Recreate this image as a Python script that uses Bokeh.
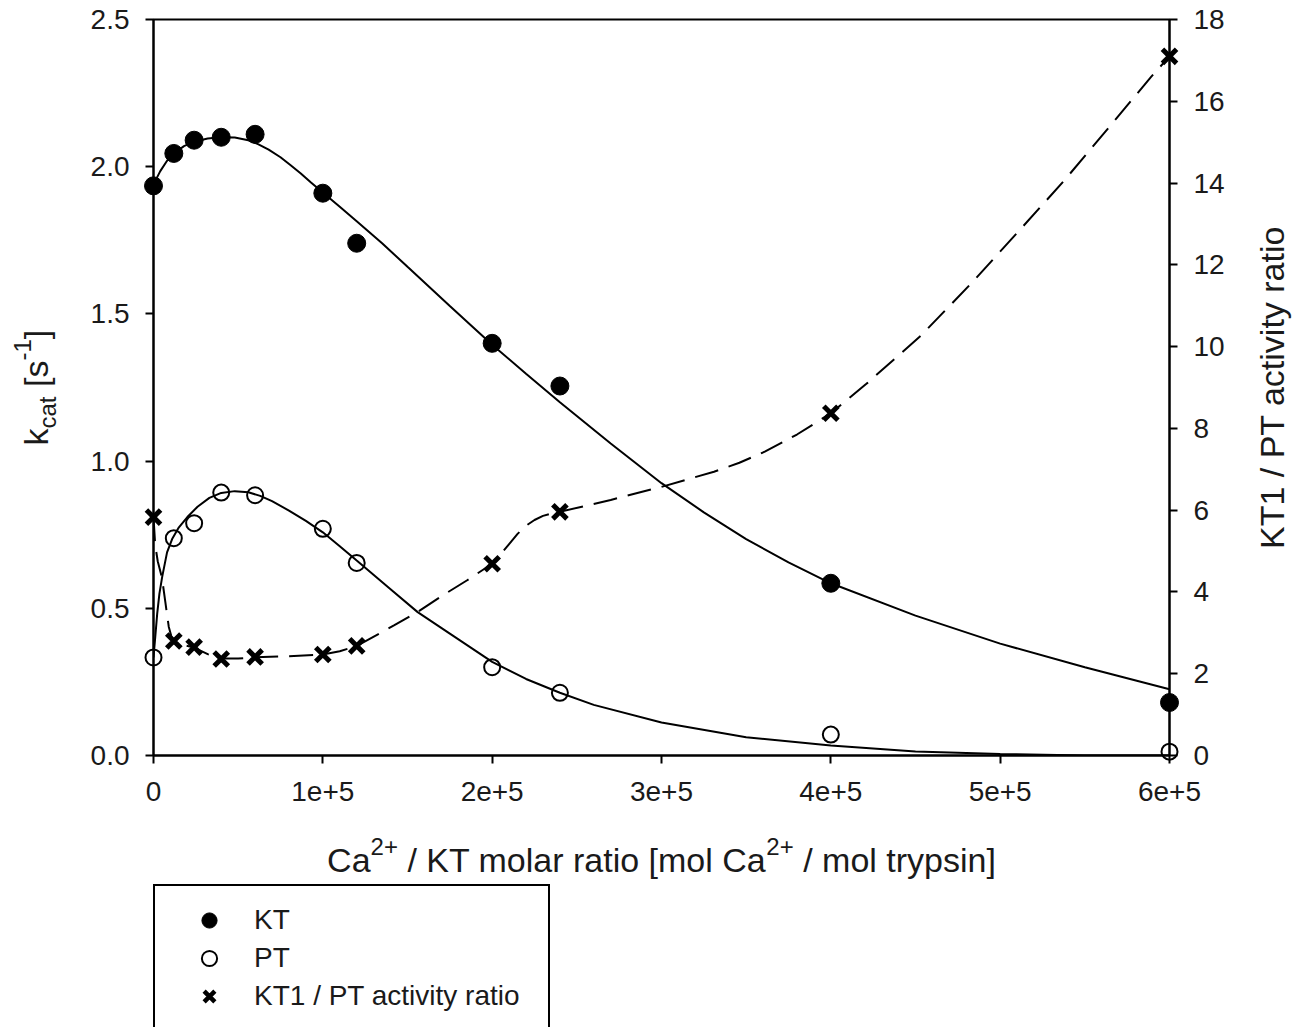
import math
from bokeh.plotting import figure
from bokeh.layouts import row, column
from bokeh.models import Range1d, LinearAxis, FixedTicker, Legend, LegendItem
from bokeh.embed import file_html
from bokeh.resources import INLINE
from bokeh.core.properties import value

# ---------------- data ----------------
ca_ratio = [0, 12000, 24000, 40000, 60000, 100000, 120000, 200000, 240000, 400000, 600000]
kt_kcat = [1.935, 2.045, 2.09, 2.10, 2.11, 1.91, 1.74, 1.40, 1.255, 0.585, 0.18]
pt_kcat = [0.333, 0.738, 0.789, 0.893, 0.884, 0.770, 0.654, 0.30, 0.213, 0.071, 0.013]
activity_ratio = [5.83, 2.80, 2.65, 2.36, 2.41, 2.47, 2.68, 4.69, 5.96, 8.37, 17.1]

# fitted curves as drawn in the picture
kt_fit_x = [0, 4000, 8000, 12000, 18000, 24000, 32000, 40000, 48000, 56000, 62000, 68000,
            75000, 81000, 87000, 93000, 100000, 110000, 120000, 135000, 150000, 175000, 200000,
            220000, 240000, 270000, 300000, 325000, 350000, 375000, 400000, 450000, 500000,
            550000, 600000]
kt_fit_y = [1.94, 1.985, 2.02, 2.045, 2.07, 2.085, 2.096, 2.10, 2.099, 2.09, 2.076, 2.058,
            2.032, 2.005, 1.977, 1.946, 1.912, 1.864, 1.815, 1.74, 1.66, 1.527, 1.395,
            1.297, 1.20, 1.06, 0.925, 0.826, 0.735, 0.656, 0.585, 0.475, 0.38,
            0.30, 0.225]

pt_fit_x = [0, 1000, 2200, 3500, 5100, 8000, 11000, 15000, 20000, 26000, 33000, 40000, 48000,
            56000, 63000, 70000, 80000, 90000, 100000, 110000, 120000, 140000, 156000, 175000,
            200000, 220000, 240000, 260000, 300000, 350000, 400000, 450000, 500000, 550000,
            600000]
pt_fit_y = [0.333, 0.40, 0.483, 0.55, 0.606, 0.69, 0.735, 0.775, 0.81, 0.845, 0.875, 0.892, 0.898,
            0.894, 0.882, 0.864, 0.832, 0.797, 0.758, 0.711, 0.662, 0.565, 0.487, 0.414,
            0.318, 0.26, 0.213, 0.172, 0.112, 0.062, 0.034, 0.014, 0.005, 0.0,
            0.0]

ratio_fit_x = [0, 1000, 2500, 5000, 7000, 9000, 10500, 12000, 18000, 24000, 32000, 40000, 50000,
               60000, 80000, 100000, 110000, 120000, 142000, 156000, 171000, 185000, 200000,
               205000, 210000, 215000, 220000, 225000, 230000, 235000, 240000, 270000, 300000,
               331000, 346000, 361000, 380000, 400000, 421000, 453000, 483000, 510000, 538000,
               563000, 589000, 600000]
ratio_fit_y = [5.83, 5.15, 4.75, 4.35, 3.75, 3.15, 2.92, 2.79, 2.70, 2.64, 2.48, 2.37, 2.37,
               2.40, 2.43, 2.47, 2.55, 2.68, 3.18, 3.51, 3.92, 4.28, 4.69,
               4.92, 5.17, 5.42, 5.62, 5.76, 5.86, 5.92, 5.96, 6.25, 6.57,
               6.94, 7.16, 7.43, 7.85, 8.37, 9.09, 10.26, 11.55, 12.78, 14.07,
               15.3, 16.59, 17.1]

x_ticks = [0, 100000, 200000, 300000, 400000, 500000, 600000]
x_tick_labels = ["0", "1e+5", "2e+5", "3e+5", "4e+5", "5e+5", "6e+5"]
kcat_ticks = [0.0, 0.5, 1.0, 1.5, 2.0, 2.5]
kcat_tick_labels = ["0.0", "0.5", "1.0", "1.5", "2.0", "2.5"]
ratio_ticks = [0, 2, 4, 6, 8, 10, 12, 14, 16, 18]
ratio_tick_labels = [str(t) for t in ratio_ticks]

NB = "\u00a0"
legend_labels = ["KT", "PT", "KT1 / PT activity ratio"]
x_title_parts = [("Ca", "main"), ("2+", "sup"), (NB + "/ KT molar ratio [mol Ca", "main"),
                 ("2+", "sup"), (NB + "/ mol trypsin]", "main")]
y_title_parts = [("k", "main"), ("cat", "sub"), (NB + "[s", "main"), ("-1", "sup"), ("]", "main")]
y2_title = "KT1 / PT activity ratio"

FONT = "Liberation Sans"
TXT = "#1a1a1a"
TITLE_PX = 34
SCRIPT_PX = 24
BASE_FIX = 12   # rendered alphabetic baseline sits this much lower than requested

# ---------------- layout sizes (page pixels) ----------------
TOTAL_W = 1300
LEFT_W = 80
RIGHT_W = 60
MAIN_W = TOTAL_W - LEFT_W - RIGHT_W
TOP_H = 815
XT_H = 67
LEG_H = 1027 - TOP_H - XT_H
FR_TOP, FR_BOT = 19, 755          # page y of the plot frame
FR_LEFT = 153

# ---------------- main figure ----------------
p = figure(width=MAIN_W, height=TOP_H, x_range=Range1d(0, 600000), y_range=Range1d(0, 2.5),
           output_backend="svg", toolbar_location=None,
           min_border_left=FR_LEFT - LEFT_W, min_border_right=71, min_border_top=FR_TOP,
           min_border_bottom=TOP_H - FR_BOT,
           background_fill_color="white", border_fill_color="white")
p.xgrid.visible = False
p.ygrid.visible = False
p.outline_line_color = "black"
p.outline_line_width = 2
p.extra_y_ranges = {"ratio": Range1d(0, 18)}


def style_axis(ax, ticks, labels, standoff):
    ax.ticker = FixedTicker(ticks=ticks)
    ax.major_label_overrides = {t: l for t, l in zip(ticks, labels)}
    ax.major_tick_out = 8
    ax.major_tick_in = 0
    ax.minor_tick_out = 0
    ax.minor_tick_in = 0
    ax.axis_line_width = 2
    ax.major_tick_line_width = 2
    ax.axis_line_color = "black"
    ax.major_tick_line_color = "black"
    ax.major_label_text_font = FONT
    ax.major_label_text_font_size = "28px"
    ax.major_label_text_color = TXT
    ax.major_label_standoff = standoff


style_axis(p.xaxis[0], x_ticks, x_tick_labels, 18)
style_axis(p.yaxis[0], kcat_ticks, kcat_tick_labels, 16)
rax = LinearAxis(y_range_name="ratio")
style_axis(rax, ratio_ticks, ratio_tick_labels, 16)
p.add_layout(rax, "right")

# curves
p.line(kt_fit_x, kt_fit_y, line_color="black", line_width=2)
p.line(pt_fit_x, pt_fit_y, line_color="black", line_width=2)
p.line(ratio_fit_x, ratio_fit_y, y_range_name="ratio", line_color="black", line_width=2,
       line_dash="24 11")

# markers
KT_STYLE = dict(marker="circle", size=18, fill_color="black", line_color="black")
PT_STYLE = dict(marker="circle", size=16, fill_color=None, line_color="black", line_width=2)
RA_STYLE = dict(marker="x", size=20, line_color="black", line_width=5)
p.scatter(ca_ratio, kt_kcat, level="overlay", **KT_STYLE)
p.scatter(ca_ratio, pt_kcat, level="overlay", **PT_STYLE)
p.scatter(ca_ratio, activity_ratio, y_range_name="ratio", level="overlay", **RA_STYLE)


# ---------------- helper: blank figure whose data units are page pixels ----------------
def canvas(w, h, x0, x1, y_top, y_bot, bl=0, br=0, bt=0, bb=0):
    f = figure(width=w, height=h, x_range=Range1d(x0, x1), y_range=Range1d(y_bot, y_top),
               x_axis_type=None, y_axis_type=None, output_backend="svg",
               toolbar_location=None, min_border=0, min_border_left=bl, min_border_right=br,
               min_border_top=bt, min_border_bottom=bb, outline_line_color=None,
               background_fill_color="white", border_fill_color="white")
    return f


W = {' ': 278, NB: 278, '/': 278, '[': 278, ']': 278, '2': 556, '+': 584, 'C': 722, 'a': 556,
     'K': 667, 'T': 611, 'm': 833, 'o': 556, 'l': 222, 'r': 333, 't': 278, 'i': 222,
     'y': 500, 'p': 556, 's': 500, 'n': 556, 'k': 500, 'c': 500, '-': 333, '1': 556}


def tw(s, size):
    return sum(W.get(ch, 556) for ch in s) / 1000 * size


SHIFT = {"main": 0, "sup": 13, "sub": -12}


def size_of(kind):
    return TITLE_PX if kind == "main" else SCRIPT_PX


# ---------------- left title (frame aligned with main frame) ----------------
lf = canvas(LEFT_W, TOP_H, 0, LEFT_W, FR_TOP, FR_BOT, bt=FR_TOP, bb=TOP_H - FR_BOT)
xs, ys, ts, fs = [], [], [], []
pos = 445
for t, kind in y_title_parts:
    xs.append(47 - SHIFT[kind] - BASE_FIX)
    ys.append(pos)
    ts.append(t)
    fs.append(f"{size_of(kind)}px")
    pos -= tw(t, size_of(kind))
lf.text(x=xs, y=ys, text=ts, angle=math.pi / 2, text_font=value(FONT), text_font_size=fs,
        text_color=TXT, text_align="left", text_baseline="alphabetic")

# ---------------- right title ----------------
RX0 = LEFT_W + MAIN_W
rf = canvas(RIGHT_W, TOP_H, RX0, TOTAL_W, FR_TOP, FR_BOT, bt=FR_TOP, bb=TOP_H - FR_BOT)
rf.text(x=[1283 - BASE_FIX], y=[387], text=[y2_title], angle=math.pi / 2,
        text_font=value(FONT), text_font_size=f"{TITLE_PX}px", text_color=TXT,
        text_align="center", text_baseline="alphabetic")

# ---------------- x title ----------------
xf = canvas(TOTAL_W, XT_H, FR_LEFT, TOTAL_W, TOP_H, TOP_H + XT_H, bl=FR_LEFT)
total = sum(tw(t, size_of(k)) for t, k in x_title_parts)
cx = 661 - total / 2
xs, ys, ts, fs = [], [], [], []
for t, kind in x_title_parts:
    xs.append(cx)
    ys.append(871 - SHIFT[kind] - BASE_FIX)
    ts.append(t)
    fs.append(f"{size_of(kind)}px")
    cx += tw(t, size_of(kind))
xf.text(x=xs, y=ys, text=ts, text_font=value(FONT), text_font_size=fs, text_color=TXT,
        text_align="left", text_baseline="alphabetic")

# ---------------- legend ----------------
lg = figure(width=TOTAL_W, height=LEG_H, x_range=Range1d(-2, -1), y_range=Range1d(-2, -1),
            x_axis_type=None, y_axis_type=None, output_backend="svg", toolbar_location=None,
            min_border=0, min_border_left=FR_LEFT, min_border_right=0, min_border_top=2,
            min_border_bottom=0, outline_line_color=None,
            background_fill_color="white", border_fill_color="white")
# legend swatches: same series, outside this panel's visible range
g_kt = lg.scatter(ca_ratio, kt_kcat, **KT_STYLE)
g_pt = lg.scatter(ca_ratio, pt_kcat, **PT_STYLE)
g_ra = lg.scatter(ca_ratio, activity_ratio, **dict(RA_STYLE, line_width=4.5))
legend = Legend(items=[LegendItem(label=legend_labels[0], renderers=[g_kt], index=0),
                       LegendItem(label=legend_labels[1], renderers=[g_pt], index=0),
                       LegendItem(label=legend_labels[2], renderers=[g_ra], index=0)],
                location="top_left", orientation="vertical", margin=0, padding=15, spacing=0,
                glyph_width=78, glyph_height=38, label_height=38, label_width=279,
                label_standoff=6, label_text_font=FONT, label_text_font_size="28px",
                label_text_color=TXT, border_line_color="black", border_line_width=2,
                border_line_alpha=1.0, background_fill_color="white",
                background_fill_alpha=1.0)
lg.add_layout(legend)

layout = column(row(lf, p, rf), xf, lg)
open("out.html", "w").write(file_html(layout, INLINE))
